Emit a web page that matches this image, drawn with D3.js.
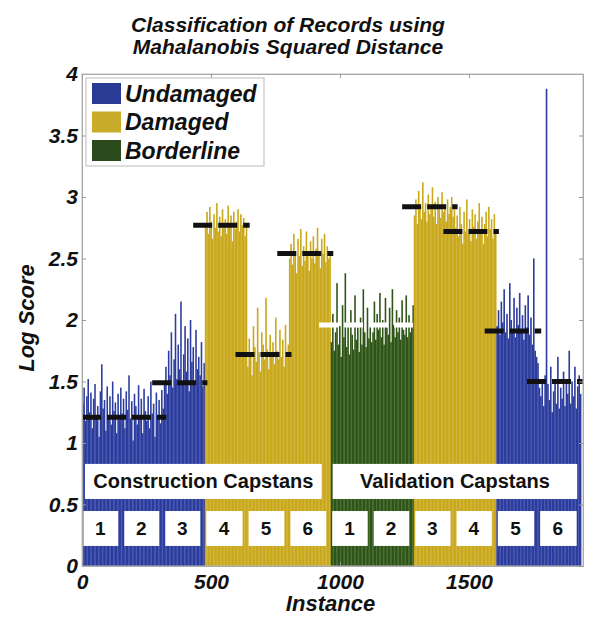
<!DOCTYPE html>
<html>
<head>
<meta charset="utf-8">
<script src="https://cdn.jsdelivr.net/npm/d3@7"></script>
<style>
  body { margin: 0; background: #fff; }
  svg text { font-family: "Liberation Sans", Arial, sans-serif; }
</style>
</head>
<body>
<svg id="chart"></svg>
<script>
// capstan boundaries (instance index) and what each capstan was classed as
const capBounds = [0, 158, 317, 476, 640, 802, 964, 1125, 1286, 1446, 1606, 1770, 1935];
const capClass = ["Undamaged", "Undamaged", "Undamaged", "Damaged", "Damaged", "Damaged",
  "Borderline", "Borderline", "Damaged", "Damaged", "Undamaged", "Undamaged"];
const capLabels = ["1", "2", "3", "4", "5", "6", "1", "2", "3", "4", "5", "6"];
const thresholds = [1.21, 1.21, 1.49, 2.77, 1.72, 2.54, 1.96, 1.96, 2.92, 2.72, 1.91, 1.5];
const groupNames = ["Construction Capstans", "Validation Capstans"];
const groupStart = [0, 6];
const groupEnd = [6, 12];

// log scores, one array per capstan
const con1 = [1.32, 1.45, 1.18, 1.38, 1.52, 1.25, 1.41, 1.12, 1.36, 1.48, 1.22, 1.3, 1.05, 1.42, 1.64, 1.28, 1.35, 1.1, 1.46, 1.2, 1.38, 1.15, 1.5, 1.26, 1.33, 1.08, 1.4, 1.19, 1.45, 1.24];
const con2 = [1.36, 1.12, 1.42, 1.27, 1.55, 1.2, 1.34, 1.02, 1.4, 1.3, 1.15, 1.47, 1.22, 1.36, 1.08, 1.44, 1.26, 1.18, 1.38, 1.12, 1.5, 1.24, 1.32, 1.05, 1.41, 1.2, 1.35, 1.16, 1.43, 1.28];
const con3 = [1.48, 1.62, 1.4, 1.75, 1.55, 1.9, 1.45, 1.68, 2.05, 1.52, 1.8, 1.6, 2.15, 1.5, 1.72, 1.95, 1.58, 1.85, 1.42, 2.0, 1.66, 1.78, 1.48, 1.92, 1.6, 1.7, 1.55, 1.82, 1.46, 1.65];
const con4 = [2.78, 2.88, 2.7, 2.92, 2.8, 2.66, 2.86, 2.75, 2.95, 2.72, 2.84, 2.68, 2.9, 2.78, 2.82, 2.7, 2.93, 2.76, 2.85, 2.64, 2.88, 2.74, 2.8, 2.9, 2.72, 2.86, 2.77, 2.83, 2.68, 2.79];
const con5 = [1.62, 1.85, 1.7, 1.55, 1.95, 1.78, 1.66, 2.1, 1.74, 1.58, 1.9, 1.8, 1.68, 2.18, 1.76, 1.6, 1.88, 1.72, 1.82, 1.64, 2.02, 1.75, 1.68, 1.92, 1.7, 1.84, 1.62, 1.96, 1.74, 1.8];
const con6 = [2.5, 2.62, 2.45, 2.7, 2.55, 2.38, 2.66, 2.52, 2.74, 2.44, 2.6, 2.48, 2.72, 2.56, 2.4, 2.64, 2.5, 2.68, 2.46, 2.58, 2.75, 2.52, 2.42, 2.66, 2.54, 2.7, 2.47, 2.6, 2.5, 2.56];
const val1 = [1.82, 2.05, 1.75, 1.9, 2.3, 1.8, 1.95, 1.7, 2.12, 1.86, 2.38, 1.78, 1.98, 1.72, 2.08, 1.88, 1.76, 2.2, 1.84, 1.94, 1.74, 2.02, 1.8, 2.25, 1.9, 1.78, 2.1, 1.85, 1.96, 1.82];
const val2 = [1.9, 2.15, 1.84, 2.05, 1.92, 2.22, 1.86, 2.0, 1.8, 2.18, 1.94, 1.88, 2.1, 1.82, 2.25, 1.96, 1.86, 2.08, 1.9, 2.02, 1.84, 2.16, 1.92, 1.88, 2.2, 1.86, 2.04, 1.9, 1.98, 2.12];
const val3 = [2.85, 2.98, 2.78, 3.05, 2.9, 2.82, 3.12, 2.88, 2.95, 2.8, 3.02, 2.86, 2.92, 3.08, 2.84, 2.96, 2.78, 3.0, 2.9, 2.83, 3.04, 2.88, 2.94, 2.8, 2.98, 2.86, 2.92, 3.0, 2.84, 2.9];
const val4 = [2.75, 2.85, 2.68, 2.92, 2.78, 2.62, 2.88, 2.72, 2.98, 2.7, 2.82, 2.64, 2.9, 2.76, 2.86, 2.66, 2.8, 2.95, 2.7, 2.84, 2.62, 2.78, 2.88, 2.68, 2.92, 2.74, 2.82, 2.66, 2.86, 2.72];
const val5 = [1.95, 2.08, 1.88, 2.15, 1.98, 2.25, 1.9, 2.05, 1.85, 2.3, 2.0, 1.92, 2.18, 1.86, 2.1, 1.96, 2.22, 1.9, 2.04, 1.84, 2.12, 1.94, 2.2, 1.88, 2.02, 1.8, 2.5, 1.75, 1.7, 1.65];
const val6 = [1.45, 1.38, 1.52, 1.3, 1.55, 3.88, 1.48, 1.35, 1.62, 1.25, 1.42, 1.52, 1.32, 1.7, 1.28, 1.45, 1.36, 1.58, 1.3, 1.48, 1.4, 1.75, 1.32, 1.5, 1.38, 1.62, 1.28, 1.46, 1.55, 1.4];
const scores = [con1, con2, con3, con4, con5, con6, val1, val2, val3, val4, val5, val6];

const classColors = { Undamaged: "#2b3c9e", Damaged: "#c9a81c", Borderline: "#2e5516" };
const legendColors = { Undamaged: "#2a3b96", Damaged: "#c9ac2a", Borderline: "#2b4a1c" };

const width = 600;
const height = 629;
const margin = { top: 74, right: 17, bottom: 63, left: 82 };

const svg = d3.select("#chart").attr("width", width).attr("height", height);

const xScale = d3.scaleLinear().domain([0, 1942]).range([margin.left, width - margin.right]);
const yScale = d3.scaleLinear().domain([0, 4]).range([height - margin.bottom, margin.top]);

// flatten capstans into bars
const bars = [];
scores.forEach((vals, k) => {
  const step = (capBounds[k + 1] - capBounds[k]) / vals.length;
  vals.forEach((v, i) => {
    bars.push({ x0: capBounds[k] + i * step, x1: capBounds[k] + (i + 1) * step, v: v, cls: capClass[k] });
  });
});

svg.append("g")
  .selectAll("rect")
  .data(bars)
  .enter()
  .append("rect")
  .attr("x", (d) => xScale(d.x0))
  .attr("width", (d) => xScale(d.x1) - xScale(d.x0) + 0.2)
  .attr("y", (d) => yScale(d.v))
  .attr("height", (d) => yScale(0) - yScale(d.v))
  .attr("fill", (d) => classColors[d.cls]);

// threshold lines, consecutive equal thresholds merged into one line
const thrLines = [];
thresholds.forEach((t, k) => {
  const last = thrLines[thrLines.length - 1];
  if (last && last.t === t) last.k1 = k;
  else thrLines.push({ t: t, k0: k, k1: k });
});
svg.append("g")
  .selectAll("line")
  .data(thrLines)
  .enter()
  .append("line")
  .attr("x1", (d) => xScale(Math.max(0, capBounds[d.k0] - 45)))
  .attr("x2", (d) => xScale(capBounds[d.k1 + 1] + 10))
  .attr("y1", (d) => yScale(d.t))
  .attr("y2", (d) => yScale(d.t))
  .attr("stroke", (d) => (capClass[d.k0] === "Borderline" ? "#fff" : "#111"))
  .attr("stroke-width", 5)
  .attr("stroke-dasharray", "19,6");

// capstan annotation boxes
const ann = svg.append("g").style("font-family", "Lato, 'Open Sans', sans-serif").style("font-weight", "bold");
groupNames.forEach((name, g) => {
  const x0 = xScale(capBounds[groupStart[g]]) + (g === 0 ? 3 : 2);
  const x1 = xScale(capBounds[groupEnd[g]]) - (g === 0 ? 9 : 4);
  ann.append("rect")
    .attr("x", x0).attr("width", x1 - x0)
    .attr("y", yScale(0.83)).attr("height", yScale(0.545) - yScale(0.83))
    .attr("fill", "#fff");
  ann.append("text")
    .attr("x", (x0 + x1) / 2).attr("y", yScale(0.69))
    .attr("dy", "0.35em").attr("text-anchor", "middle")
    .style("font-size", "20px").attr("fill", "#111")
    .text(name);
});
ann.selectAll(".cap")
  .data(capLabels)
  .enter()
  .append("rect")
  .attr("x", (d, i) => xScale(capBounds[i]) + 1.5)
  .attr("width", (d, i) => xScale(capBounds[i + 1]) - xScale(capBounds[i]) - 6)
  .attr("y", yScale(0.447))
  .attr("height", yScale(0.163) - yScale(0.447))
  .attr("fill", "#fff");
ann.selectAll(".capText")
  .data(capLabels)
  .enter()
  .append("text")
  .attr("x", (d, i) => (xScale(capBounds[i]) + xScale(capBounds[i + 1])) / 2 - 2)
  .attr("y", yScale(0.305))
  .attr("dy", "0.35em")
  .attr("text-anchor", "middle")
  .style("font-size", "19px")
  .attr("fill", "#111")
  .text((d) => d);

// frame
svg.append("rect")
  .attr("x", margin.left).attr("y", margin.top)
  .attr("width", width - margin.left - margin.right)
  .attr("height", height - margin.top - margin.bottom)
  .attr("fill", "none").attr("stroke", "#bbb");

// axes
const fmt = (d) => String(d);
const yAxis = d3.axisLeft(yScale).tickValues(d3.range(0, 4.01, 0.5)).tickFormat(fmt).tickSize(-4).tickPadding(4);
const xAxis = d3.axisBottom(xScale).tickValues([0, 500, 1000, 1500]).tickFormat(fmt).tickSize(-4).tickPadding(8);

function styleAxis(g) {
  g.select(".domain").attr("stroke", "#aaa");
  g.selectAll(".tick line").attr("stroke", "#999");
  g.selectAll("text")
    .style("font-size", "21px").style("font-weight", "bold").style("font-style", "italic")
    .attr("fill", "#111");
}

svg.append("g").attr("transform", "translate(" + margin.left + ",0)").call(yAxis).call(styleAxis);
svg.append("g").attr("transform", "translate(0," + (height - margin.bottom) + ")").call(xAxis).call(styleAxis);
svg.append("g").attr("transform", "translate(" + (width - margin.right) + ",0)")
  .call(d3.axisRight(yScale).tickValues(d3.range(0, 4.01, 0.5)).tickFormat("").tickSize(-4))
  .call(styleAxis);
svg.append("g").attr("transform", "translate(0," + margin.top + ")")
  .call(d3.axisTop(xScale).tickValues([0, 500, 1000, 1500]).tickFormat("").tickSize(-4))
  .call(styleAxis);

// legend
const legendKeys = ["Undamaged", "Damaged", "Borderline"];
const legend = svg.append("g").attr("transform", "translate(86,78)");
legend.append("rect")
  .attr("width", 178).attr("height", 88)
  .attr("fill", "#fff").attr("stroke", "#bbb");
legend.selectAll(".key")
  .data(legendKeys)
  .enter()
  .append("rect")
  .attr("x", 6).attr("y", (d, i) => 5 + i * 28.5)
  .attr("width", 29).attr("height", 21)
  .attr("fill", (d) => legendColors[d]);
legend.selectAll(".label")
  .data(legendKeys)
  .enter()
  .append("text")
  .attr("x", 39).attr("y", (d, i) => 15.5 + i * 28.5)
  .attr("dy", "0.36em")
  .style("font-size", "23px").style("font-weight", "bold").style("font-style", "italic")
  .attr("fill", "#111")
  .text((d) => d);

// titles
const titleLines = ["Classification of Records using", "Mahalanobis Squared Distance"];
svg.selectAll(".title")
  .data(titleLines)
  .enter()
  .append("text")
  .attr("x", 288).attr("y", (d, i) => 32 + i * 22)
  .attr("text-anchor", "middle")
  .style("font-size", "21px").style("font-weight", "bold").style("font-style", "italic")
  .attr("fill", "#111")
  .text((d) => d);

svg.append("text")
  .attr("x", (margin.left + width - margin.right) / 2 - 2).attr("y", 611)
  .attr("text-anchor", "middle")
  .style("font-size", "22px").style("font-weight", "bold").style("font-style", "italic")
  .attr("fill", "#111")
  .text("Instance");

svg.append("text")
  .attr("transform", "translate(34,318) rotate(-90)")
  .attr("text-anchor", "middle")
  .style("font-size", "22px").style("font-weight", "bold").style("font-style", "italic")
  .attr("fill", "#111")
  .text("Log Score");
</script>
</body>
</html>
